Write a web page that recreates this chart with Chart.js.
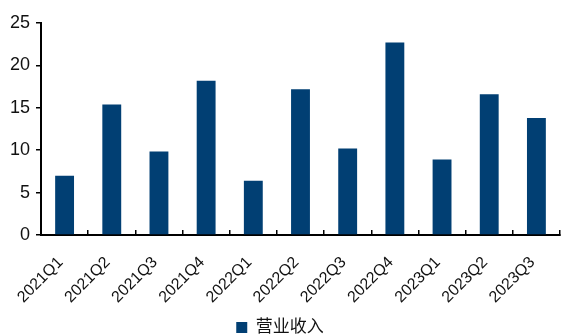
<!DOCTYPE html>
<html>
<head>
<meta charset="utf-8">
<script src="https://cdn.jsdelivr.net/npm/chart.js@4"></script>
<style>
  html, body { margin: 0; padding: 0; overflow: hidden; background: #fff; }
  #wrap { width: 561px; height: 346px; }
</style>
</head>
<body>
<div id="wrap"><canvas id="myChart" width="561" height="346"></canvas></div>
<script>
// quarters on the x axis
var quarters = ['2021Q1', '2021Q2', '2021Q3', '2021Q4', '2022Q1', '2022Q2', '2022Q3', '2022Q4', '2023Q1', '2023Q2', '2023Q3'];
// operating revenue per quarter
var revenue = [7.0, 15.4, 9.85, 18.2, 6.4, 17.2, 10.2, 22.7, 8.9, 16.6, 13.8];
var yTicks = [0, 5, 10, 15, 20, 25];

var font = 'Liberation Sans, Arial, "Noto Sans CJK SC", sans-serif';

var ctx = document.getElementById('myChart').getContext('2d');
var chart = new Chart(ctx, {
  type: 'bar',
  data: {
    labels: quarters,
    datasets: [
      {
        label: '营业收入',
        backgroundColor: '#013f73',
        borderWidth: 0,
        data: revenue,
        barPercentage: 0.8,
        categoryPercentage: 0.5,
      },
    ],
  },
  options: {
    responsive: false,
    animation: false,
    layout: { padding: { top: 23, right: 1, left: 0, bottom: 0 } },
    plugins: {
      tooltip: { enabled: false },
      legend: {
        position: 'bottom',
        labels: {
          boxWidth: 11,
          boxHeight: 11,
          padding: 10,
          color: '#111',
          font: { family: font, size: 17 },
        },
      },
    },
    scales: {
      x: {
        afterFit: function (scale) {
          scale.height = 74;
          // rotated labels stay inside, don't let them squeeze the plot
          scale.paddingLeft = 0;
          scale.paddingRight = 0;
        },
        grid: {
          offset: true,
          drawOnChartArea: false,
          drawTicks: true,
          tickLength: -5,
          color: '#000',
          lineWidth: 1.5,
        },
        border: { color: '#000', width: 2 },
        ticks: {
          minRotation: 45,
          maxRotation: 45,
          padding: 23,
          labelOffset: -4,
          color: '#111',
          font: { family: font, size: 16 },
        },
      },
      y: {
        min: 0,
        max: 25,
        afterFit: function (scale) { scale.width = 41; },
        afterBuildTicks: function (scale) {
          scale.ticks = yTicks.map(function (v) { return { value: v }; });
        },
        grid: {
          drawOnChartArea: false,
          drawTicks: true,
          tickLength: 5,
          color: '#000',
          lineWidth: 1.5,
        },
        border: { color: '#000', width: 2 },
        ticks: {
          padding: 6,
          color: '#111',
          font: { family: font, size: 18 },
        },
      },
    },
  },
});
</script>
</body>
</html>
